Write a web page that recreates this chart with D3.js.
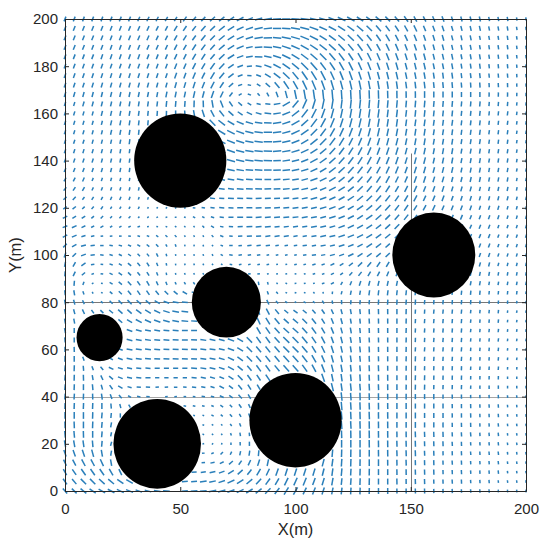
<!DOCTYPE html>
<html>
<head>
<meta charset="utf-8">
<script src="https://cdn.jsdelivr.net/npm/d3@7"></script>
<style>
body { margin: 0; background: #fff; }
text { font-family: "Liberation Sans", Arial, sans-serif; fill: #262626; }
</style>
</head>
<body>
<script>
var w = 550;
var h = 556;

var xTicks = [0, 50, 100, 150, 200];
var yTicks = [0, 20, 40, 60, 80, 100, 120, 140, 160, 180, 200];

// obstacles, data units
var circleX = [50, 160, 70, 15, 40, 100];
var circleY = [140, 100, 80, 65, 20, 30];
var circleR = [20, 18, 15, 10, 19, 20];

// thin grey lines under the field
var hLineY = [80, 40];
var hLineColor = ["#777", "#a5a5a5"];
var vLineX = 150;
var vLineTop = 143;

// grid step of the field is 4 m, rows go from y=200 down to y=0
var gridStep = 4;

// direction of each arrow in degrees, read by eye
var angles = [
[68,68,68,68,68,68,67,66,65,63,62,60,58,55,50,46,42,38,33,28,22,16,10,5,0,176,172,168,164,160,156,152,148,144,140,135,130,125,120,117,114,111,108,106,104,103,102,101,100,99,98],
[68,68,68,68,68,68,68,67,66,65,63,62,59,56,52,48,43,38,32,25,18,12,6,0,176,170,166,160,156,152,148,144,140,136,131,127,123,119,116,113,111,109,107,105,103,102,101,100,99,98,98],
[68,68,68,68,68,69,69,68,67,66,65,63,61,58,54,50,45,39,32,24,16,8,2,176,170,164,158,153,149,145,141,137,133,129,125,121,118,115,112,110,108,106,105,103,102,101,100,99,98,98,97],
[68,68,68,69,69,70,70,69,68,67,66,65,63,60,57,53,47,40,32,22,12,4,176,170,162,156,150,146,142,138,134,130,126,122,119,116,113,111,109,107,105,104,103,102,101,100,99,98,98,97,97],
[69,69,69,69,70,70,70,70,70,69,68,67,65,63,60,56,50,43,32,20,8,178,170,162,154,148,143,139,135,131,127,124,120,117,114,112,110,108,106,105,104,103,102,101,100,99,98,97,97,96,96],
[70,70,70,70,71,71,71,71,71,71,70,69,68,66,63,59,54,46,35,20,5,170,160,152,145,140,135,131,127,124,120,117,114,112,110,108,106,105,104,103,102,101,100,99,98,97,97,96,96,95,95],
[70,71,71,72,72,73,73,73,73,73,72,71,70,69,67,63,58,50,38,20,178,160,148,142,136,130,125,122,118,115,112,110,108,106,105,104,103,102,101,100,99,98,98,97,97,96,96,95,95,94,94],
[71,72,72,73,74,74,75,75,75,75,75,75,74,73,72,68,63,56,42,20,170,148,138,130,124,120,116,113,110,107,105,103,102,101,100,99,98,98,97,97,96,96,95,95,94,94,93,93,92,92,92],
[72,73,74,75,76,76,77,78,78,78,79,79,79,78,77,75,71,64,52,30,160,130,118,110,105,102,100,98,96,95,94,93,93,92,92,92,91,91,91,90,90,90,90,90,90,90,89,89,89,89,88],
[72,73,74,75,76,77,78,80,81,82,83,84,85,86,88,92,100,112,125,138,150,165,175,10,30,50,65,73,78,81,83,84,84,85,85,85,85,85,85,85,85,85,85,85,85,85,85,85,85,85,85],
[72,73,74,75,76,77,79,80,82,84,86,88,90,94,100,108,118,128,138,146,155,165,175,8,22,38,52,62,70,75,78,80,81,82,82,83,83,83,84,84,84,84,84,84,84,84,84,84,83,83,83],
[72,73,74,75,76,77,79,81,83,85,88,92,96,104,115,125,134,142,150,157,164,172,178,8,18,30,42,53,61,67,72,75,77,79,80,81,82,82,82,82,82,82,82,83,83,83,83,83,83,82,82],
[72,73,74,75,76,77,79,81,84,86,90,95,103,115,125,134,142,148,154,160,167,173,179,6,15,25,35,45,53,60,65,69,72,75,77,78,79,80,81,81,81,81,82,82,82,82,82,82,82,82,82],
[72,72,73,74,75,77,79,82,85,88,92,98,108,122,132,140,147,153,158,163,169,174,179,5,12,21,30,38,46,53,59,63,67,70,73,75,76,78,79,80,80,80,81,81,81,81,81,82,82,82,82],
[71,72,73,74,75,77,80,83,86,90,95,100,110,125,135,143,150,156,161,166,171,175,179,4,10,17,25,33,40,47,53,58,62,66,69,71,73,75,77,78,79,79,80,80,80,81,81,81,81,81,81],
[70,71,72,73,75,77,80,83,87,90,95,100,110,130,140,148,155,160,165,169,173,176,179,3,8,14,21,28,35,42,48,53,58,62,65,68,71,73,75,76,77,78,79,79,80,80,80,81,81,81,81],
[66,68,70,72,74,76,79,82,85,88,92,98,108,130,145,153,159,164,168,171,175,177,180,2,6,11,17,24,31,37,43,48,53,57,61,65,68,70,72,74,75,76,77,78,79,79,80,80,80,80,80],
[60,63,66,69,72,74,77,80,82,85,88,92,100,130,150,158,163,167,170,173,176,178,1,3,6,10,15,20,26,32,38,44,49,53,57,61,64,67,70,72,73,74,75,76,77,78,79,79,80,80,80],
[52,56,60,64,68,71,74,76,78,80,82,85,92,130,160,165,169,172,174,176,178,179,1,3,5,8,12,17,22,28,33,39,44,49,53,57,60,63,66,68,70,72,73,74,75,76,77,78,78,79,79],
[42,46,52,57,62,66,68,70,72,74,75,70,60,170,170,172,174,175,177,178,179,1,2,3,5,7,10,14,19,24,29,34,39,44,48,52,55,59,62,65,67,69,70,72,73,74,75,76,76,77,77],
[35,38,44,50,55,58,60,62,63,60,55,45,30,10,175,170,172,176,178,179,1,2,3,4,5,7,9,12,16,20,25,30,35,40,44,48,52,55,58,61,64,66,68,69,71,72,73,74,75,76,76],
[28,30,35,40,44,46,46,45,42,35,25,10,175,160,150,155,165,175,178,1,2,3,4,5,6,7,8,10,14,18,22,27,32,36,41,45,49,52,55,58,61,63,65,67,68,70,71,72,73,74,75],
[22,24,26,28,30,30,28,24,15,5,175,160,145,130,125,135,150,170,178,2,3,4,5,6,7,8,9,10,12,16,20,25,29,33,38,42,46,49,52,55,58,60,62,64,66,68,69,71,72,73,74],
[28,22,16,12,8,4,0,175,168,160,150,140,130,120,115,115,130,160,178,3,5,5,6,6,7,8,8,9,11,14,18,22,26,31,36,40,44,47,50,53,56,58,61,63,65,67,68,70,71,72,73],
[45,30,15,8,0,172,165,155,148,140,132,118,108,100,98,105,125,160,178,4,6,6,6,7,7,8,8,9,10,13,17,22,28,34,38,42,46,50,54,56,58,60,63,65,67,69,70,71,72,73,74],
[70,45,20,5,175,165,155,145,135,128,118,105,98,100,100,105,120,150,175,6,10,10,9,8,8,8,8,8,10,14,20,26,32,36,40,44,48,52,56,60,62,64,66,68,70,71,72,73,74,75,76],
[80,60,35,10,175,160,150,140,130,122,112,100,98,105,110,115,125,145,170,10,14,12,10,10,10,12,14,16,20,25,32,38,44,50,56,60,62,64,66,68,70,71,72,73,74,75,76,76,77,77,78],
[85,65,40,20,172,155,145,135,128,122,112,100,105,112,118,122,130,145,165,5,8,8,8,8,8,10,12,15,20,28,38,46,52,58,63,67,70,72,74,75,76,77,78,78,79,79,80,80,80,80,80],
[90,85,70,30,170,150,140,132,125,120,115,112,115,120,125,130,135,150,170,10,100,100,105,125,150,5,10,12,15,28,60,68,72,75,77,78,79,79,80,80,80,80,80,80,80,80,80,80,80,80,80],
[95,100,110,120,150,140,135,130,125,125,130,135,140,150,160,170,0,0,0,0,100,100,110,130,150,160,150,130,100,85,75,78,80,82,83,83,84,84,84,84,84,84,84,84,84,84,84,84,84,84,84],
[100,105,115,125,135,135,135,135,138,140,150,160,170,175,0,0,0,0,0,0,105,108,115,130,145,150,150,140,120,100,92,85,85,86,86,86,86,86,86,86,86,86,86,86,86,86,86,86,86,86,86],
[100,105,115,125,135,140,138,138,142,148,155,163,170,175,0,0,0,0,0,0,0,110,118,130,140,145,140,130,125,115,105,100,96,93,92,91,90,88,87,86,85,85,85,85,84,84,84,83,83,82,82],
[100,100,0,0,0,0,140,150,152,156,160,165,170,175,176,0,0,0,0,0,0,115,122,130,138,140,135,128,122,112,105,100,96,93,92,91,90,88,87,86,85,85,85,85,84,84,84,83,83,82,82],
[100,90,0,0,0,0,0,160,165,170,172,174,176,178,178,0,0,0,0,0,0,120,125,132,138,138,132,126,120,112,105,100,96,93,92,91,90,88,87,86,85,85,85,85,84,84,84,83,83,82,82],
[95,90,0,0,0,0,0,165,170,172,174,176,178,179,178,172,168,165,160,150,135,125,125,132,136,135,130,124,118,110,104,100,96,93,92,91,90,88,87,86,85,85,85,85,84,84,84,83,83,82,82],
[90,92,0,0,0,0,160,170,172,174,175,176,177,178,176,174,172,168,160,150,135,130,128,132,135,135,130,122,116,108,103,99,96,93,92,91,90,88,87,86,86,86,85,85,85,84,84,84,83,83,83],
[88,90,110,0,0,150,160,168,172,175,176,177,178,178,176,173,170,165,155,145,135,130,128,130,133,133,128,120,114,106,102,98,96,93,92,91,90,88,87,86,86,86,86,85,85,85,85,84,84,84,84],
[85,88,95,110,130,155,165,170,174,176,178,179,179,178,176,172,168,162,152,140,130,126,126,130,132,132,126,118,112,104,100,97,95,93,92,91,90,89,88,87,87,87,87,87,86,86,86,86,86,86,86],
[85,88,92,100,115,140,160,170,175,178,0,1,179,178,175,170,165,158,148,135,126,124,124,0,0,0,0,0,110,102,98,96,94,93,92,91,90,89,88,88,88,88,88,88,88,88,88,89,89,90,90],
[85,88,90,95,105,125,150,165,175,178,2,3,1,178,174,168,162,153,143,130,122,120,0,0,0,0,0,0,0,104,98,96,94,93,92,91,90,89,88,88,88,88,88,88,88,89,90,90,91,92,92],
[85,86,88,92,98,110,130,150,170,175,0,3,2,0,176,172,165,155,145,132,120,0,0,0,0,0,0,0,0,0,96,94,92,92,91,91,90,90,90,90,90,90,91,91,92,92,93,94,95,96,97],
[88,88,88,88,90,95,105,120,0,0,0,0,0,172,170,168,158,145,135,125,115,0,0,0,0,0,0,0,0,0,95,94,92,92,91,91,90,90,90,90,90,90,91,91,92,92,93,94,95,96,97],
[90,90,90,88,85,85,90,0,0,0,0,0,0,0,170,160,150,140,130,120,110,0,0,0,0,0,0,0,0,0,95,93,92,92,91,91,90,90,90,90,90,90,91,91,92,92,93,94,95,96,97],
[92,92,90,88,85,80,0,0,0,0,0,0,0,0,0,165,150,135,125,112,0,0,0,0,0,0,0,0,0,0,94,93,92,91,91,91,90,90,90,90,90,91,91,92,92,93,94,95,96,97,97],
[95,95,92,90,85,78,0,0,0,0,0,0,0,0,0,150,135,120,110,100,95,0,0,0,0,0,0,0,0,0,92,91,91,91,91,91,91,91,92,92,92,92,93,93,94,94,95,96,97,98,98],
[100,100,98,95,85,75,0,0,0,0,0,0,0,0,0,20,60,80,90,92,90,0,0,0,0,0,0,0,0,0,90,90,90,91,91,91,92,92,92,92,92,92,93,93,94,94,95,96,97,98,98],
[110,110,108,105,100,80,0,0,0,0,0,0,0,0,0,5,20,45,65,78,82,85,0,0,0,0,0,0,0,85,88,89,90,90,91,91,92,92,92,92,92,92,93,93,94,94,95,96,97,98,98],
[115,118,118,118,115,100,0,0,0,0,0,0,0,0,0,5,12,25,40,55,65,72,78,0,0,0,0,0,75,82,86,88,89,90,90,91,91,92,92,92,92,92,93,93,94,94,95,96,97,98,98],
[120,125,125,125,125,120,115,0,0,0,0,0,0,0,3,8,14,20,32,42,52,60,65,70,72,72,72,73,76,82,85,87,88,89,90,90,91,91,92,92,92,92,93,93,94,94,95,96,97,98,98],
[125,130,135,135,138,140,145,150,0,0,0,0,0,5,6,8,12,18,24,32,40,48,54,60,64,66,68,70,73,80,84,86,88,89,90,90,91,91,92,92,92,92,93,93,94,94,95,96,97,98,98],
[130,135,140,145,150,152,155,158,160,165,170,175,0,3,5,6,10,14,20,25,32,38,45,52,58,60,64,68,72,78,83,86,88,89,90,90,91,91,92,92,92,92,93,93,94,94,95,96,97,98,98]
];

// arrow speed per grid point, same layout as angles
var speeds = [
[5,5,5,5,5,5,5,5,5,5,5,5,5,6,6,6,7,7,8,8,8,8,9,9,9,9,9,9,9,9,9,9,8,8,8,7,7,7,6,6,6,6,5,5,5,5,4,4,4,3,3],
[5,5,5,5,5,5,5,5,5,5,5,5,6,6,6,7,7,8,8,8,8,9,9,9,9,10,10,10,9,9,9,9,9,8,8,7,7,7,7,6,6,6,5,5,5,5,4,4,4,3,3],
[5,5,5,5,5,5,5,5,5,5,5,5,6,6,6,7,7,8,8,8,8,9,9,9,10,10,10,10,9,9,9,9,9,8,8,8,7,7,7,6,6,6,5,5,5,4,4,4,4,3,3],
[5,5,5,5,5,5,5,5,5,5,5,5,6,6,7,7,7,8,8,8,7,8,9,9,10,10,10,10,10,10,10,9,9,9,8,8,8,7,7,6,6,6,5,5,5,4,4,4,4,3,3],
[5,5,5,5,5,5,5,5,5,5,5,5,6,6,7,7,7,8,8,7,7,8,8,9,10,10,10,10,10,10,10,9,9,9,8,8,8,7,7,7,6,6,6,5,5,5,4,4,4,3,3],
[5,5,5,5,5,5,5,5,5,5,5,5,6,6,7,7,8,8,7,6,5,6,8,9,10,10,11,11,10,10,10,10,9,9,8,8,8,7,7,7,6,6,6,5,5,5,4,4,4,3,3],
[5,5,5,5,5,5,5,5,5,5,5,5,6,6,7,7,8,8,7,5,4,5,7,9,10,10,11,11,11,10,10,10,9,9,8,8,8,7,7,7,6,6,6,5,5,5,4,4,4,3,3],
[5,5,5,5,5,5,5,5,5,5,5,5,6,6,7,7,8,7,6,4,3,4,6,8,10,10,11,11,11,11,10,10,10,9,9,8,8,7,7,7,6,6,6,5,5,5,4,4,4,3,3],
[5,5,5,5,5,5,5,5,5,5,5,6,6,6,7,7,8,7,5,3,3,3,4,6,8,10,11,11,11,11,10,10,10,9,9,8,8,7,7,7,6,6,6,5,5,5,4,4,4,3,3],
[4,4,5,5,5,5,5,5,5,5,5,6,6,6,7,7,8,8,6,5,4,4,5,7,9,10,11,11,11,11,10,10,10,9,9,8,8,7,7,7,6,6,6,5,5,5,4,4,4,3,3],
[4,4,4,4,5,5,5,5,5,5,5,5,6,6,7,8,8,8,7,6,6,6,7,8,9,10,11,11,11,11,10,10,10,9,9,8,8,7,7,7,6,6,6,5,5,5,4,4,4,3,3],
[4,4,4,4,4,5,5,5,5,5,5,5,6,6,7,8,9,9,8,8,8,8,8,9,9,10,10,11,11,11,10,10,10,9,9,8,8,7,7,7,6,6,6,5,5,5,4,4,4,3,3],
[4,4,4,4,4,5,5,5,5,5,5,5,6,6,7,8,9,9,9,9,9,9,9,9,9,10,10,10,10,10,10,10,9,9,9,8,8,7,7,7,6,6,6,5,5,5,4,4,4,3,3],
[4,4,4,4,4,4,4,5,5,5,5,5,5,6,7,8,9,9,9,9,9,9,9,9,9,9,9,10,10,10,10,9,9,9,8,8,8,7,7,7,6,6,6,5,5,5,4,4,4,3,3],
[4,4,4,4,4,4,4,4,4,4,4,5,5,0,8,8,9,9,9,9,9,9,9,9,9,9,9,9,9,9,9,9,9,9,8,8,8,7,7,7,6,6,6,5,5,5,4,4,4,3,3],
[4,4,4,4,4,4,4,4,4,4,0,0,0,0,0,8,8,9,9,9,9,9,9,8,8,8,8,9,9,9,9,9,9,9,8,8,8,7,7,7,6,6,6,5,5,5,4,4,4,3,3],
[4,4,4,4,4,4,4,4,3,3,3,3,0,0,0,7,8,8,8,8,8,8,8,8,8,8,8,8,8,9,9,9,9,8,8,8,8,7,7,7,6,6,6,5,5,5,4,4,4,3,3],
[4,4,4,3,3,3,3,3,3,3,3,2,2,3,5,6,7,7,7,7,7,7,7,7,7,7,7,8,8,8,8,8,8,8,8,8,7,7,7,7,6,6,5,5,5,5,4,4,4,3,3],
[4,4,4,3,3,3,3,3,3,3,2,2,2,2,4,5,6,6,6,7,7,7,7,7,7,7,7,7,7,8,8,8,8,8,8,8,7,7,7,6,6,6,5,5,5,4,4,4,4,3,3],
[4,4,3,3,3,3,3,3,2,2,2,1,1,1,3,4,5,5,6,6,6,6,6,6,6,6,6,7,7,7,7,8,8,8,8,8,7,7,7,6,6,6,5,5,5,4,4,4,4,3,3],
[4,4,3,3,3,2,2,2,2,1,1,1,1,1,2,3,4,5,5,6,6,6,6,6,6,6,6,6,7,7,7,7,8,8,8,8,7,7,6,6,6,5,5,5,5,4,4,4,3,3,3],
[5,4,4,3,3,2,2,2,1,1,1,1,1,1,2,2,3,4,5,6,6,6,6,6,6,6,6,6,6,7,7,7,7,8,8,7,7,7,6,6,6,5,5,5,4,4,4,4,3,3,3],
[5,5,4,3,3,2,2,2,2,1,1,1,1,1,1,2,3,3,4,5,6,6,6,5,5,5,5,6,6,6,7,7,7,7,7,7,7,6,6,6,5,5,5,5,4,4,4,3,3,3,3],
[5,5,4,3,2,2,2,2,2,2,2,2,2,1,1,1,2,3,3,4,5,5,5,5,5,4,4,5,6,6,7,7,7,7,7,7,6,6,6,6,5,5,5,5,4,4,4,3,3,3,3],
[5,5,5,4,3,3,3,3,3,3,3,2,2,1,1,1,1,2,3,3,4,4,4,3,3,3,4,4,5,5,6,6,6,7,7,6,6,6,6,6,5,5,5,5,4,4,4,3,3,3,3],
[5,5,5,4,3,3,3,3,3,3,3,2,1,1,1,1,1,2,3,3,3,3,2,2,2,2,3,4,4,5,5,6,6,6,6,6,6,6,6,5,5,5,5,5,4,4,4,3,3,3,3],
[5,5,5,3,2,3,3,4,4,4,3,2,1,1,1,1,1,1,2,2,2,2,2,1,1,2,2,3,3,4,4,5,6,6,6,6,6,6,5,5,5,5,5,5,4,4,4,3,3,3,3],
[5,5,4,2,2,3,4,4,4,4,3,2,1,1,1,1,1,1,1,1,2,2,1,1,1,1,1,2,2,3,3,4,5,5,5,5,5,5,5,5,5,5,5,5,4,4,4,3,3,3,3],
[5,5,3,1,1,3,4,5,5,5,4,3,2,2,2,2,2,2,1,1,3,3,2,1,1,1,1,1,2,3,3,4,5,5,5,5,5,5,5,5,5,5,5,4,4,4,3,3,3,3,3],
[5,5,3,1,1,3,4,5,5,5,5,5,5,5,5,5,0,0,0,0,4,4,3,2,1,1,1,1,1,2,3,4,4,5,5,5,5,5,5,5,5,5,4,4,4,4,3,3,3,3,2],
[5,5,4,2,2,4,5,6,6,6,6,6,6,6,0,0,0,0,0,0,6,6,5,3,2,1,2,2,3,3,4,4,4,4,5,5,5,5,5,4,4,4,4,4,4,3,3,3,3,2,2],
[5,5,5,4,4,5,6,6,7,7,7,7,7,7,0,0,0,0,0,0,0,7,7,6,5,5,5,5,5,5,5,5,5,5,5,5,5,5,4,4,4,4,4,4,3,3,3,3,2,2,2],
[5,5,0,0,0,0,5,6,7,7,7,7,7,7,6,0,0,0,0,0,0,8,8,8,7,7,7,7,6,6,6,5,5,5,5,5,5,5,4,4,4,4,4,4,3,3,3,3,2,2,2],
[5,5,0,0,0,0,0,6,6,6,6,6,6,6,6,0,0,0,0,0,0,8,8,8,8,8,8,8,7,7,6,6,5,5,5,5,5,5,4,4,4,4,4,4,3,3,3,3,2,2,2],
[5,5,0,0,0,0,0,6,6,6,6,6,6,6,6,6,6,6,7,7,8,8,8,8,9,9,9,8,8,7,7,6,6,5,5,5,5,5,4,4,4,4,4,4,3,3,3,3,2,2,2],
[5,5,0,0,0,0,5,6,6,6,6,6,6,6,6,6,6,6,7,7,8,8,8,8,9,9,9,8,8,8,7,6,6,6,5,5,5,5,4,4,4,4,4,4,3,3,3,3,2,2,2],
[6,6,4,0,0,4,5,6,6,6,6,6,6,6,6,6,6,6,7,7,8,8,8,8,9,9,9,9,8,8,7,7,6,6,5,5,5,5,5,4,4,4,4,4,3,3,3,3,2,2,2],
[6,6,5,4,4,5,5,5,5,5,5,5,5,5,6,6,6,6,7,7,7,8,8,8,9,9,9,9,9,8,8,7,6,6,6,5,5,5,5,4,4,4,4,4,3,3,3,3,2,2,2],
[6,6,6,5,5,5,5,5,5,5,4,4,4,4,5,5,5,5,6,7,7,7,8,0,0,0,0,0,9,8,8,7,7,6,6,6,5,5,5,5,4,4,4,4,3,3,3,3,2,2,2],
[6,6,6,6,5,5,5,4,4,4,3,3,3,3,4,4,4,5,5,6,6,6,0,0,0,0,0,0,0,9,8,8,7,7,6,6,6,5,5,5,4,4,4,4,3,3,3,3,2,2,2],
[6,6,6,6,6,5,4,3,3,3,0,2,2,2,2,3,3,4,4,5,5,0,0,0,0,0,0,0,0,0,9,8,8,7,7,6,6,6,5,5,5,4,4,4,3,3,3,3,2,2,2],
[6,6,6,6,6,5,4,3,0,0,0,0,0,2,2,2,2,3,3,4,4,0,0,0,0,0,0,0,0,0,9,8,8,7,7,6,6,6,5,5,5,5,4,4,4,3,3,3,2,2,2],
[7,7,7,7,6,5,4,0,0,0,0,0,0,0,1,1,2,2,3,3,4,0,0,0,0,0,0,0,0,0,9,8,8,8,7,7,6,6,6,5,5,5,4,4,4,3,3,3,2,2,2],
[7,7,7,7,6,5,0,0,0,0,0,0,0,0,0,1,1,1,2,3,0,0,0,0,0,0,0,0,0,0,9,8,8,8,7,7,6,6,6,5,5,5,4,4,4,3,3,3,2,2,2],
[7,7,7,7,6,4,0,0,0,0,0,0,0,0,0,1,1,1,2,3,3,0,0,0,0,0,0,0,0,0,8,8,8,8,7,7,6,6,6,5,5,5,4,4,4,3,3,3,2,2,2],
[7,7,7,7,6,4,0,0,0,0,0,0,0,0,0,1,1,1,2,3,4,0,0,0,0,0,0,0,0,0,8,8,8,8,7,7,6,6,6,5,5,5,4,4,3,3,3,3,2,2,2],
[7,7,8,8,7,5,0,0,0,0,0,0,0,0,0,2,2,3,3,4,5,6,0,0,0,0,0,0,0,8,8,8,8,7,7,7,6,6,6,5,5,4,4,4,3,3,3,3,2,2,2],
[7,7,8,8,8,7,0,0,0,0,0,0,0,0,0,3,4,4,5,5,6,7,7,0,0,0,0,0,8,8,8,8,7,7,7,6,6,6,5,5,5,4,4,4,3,3,3,3,2,2,2],
[7,7,8,8,8,8,7,0,0,0,0,0,0,0,5,5,6,6,7,7,7,8,8,8,8,8,8,8,8,8,8,7,7,7,6,6,6,6,5,5,5,4,4,4,3,3,3,3,2,2,2],
[7,7,8,8,8,8,8,8,0,0,0,0,0,6,6,7,7,7,8,8,8,8,8,8,9,9,9,8,8,8,7,7,7,7,6,6,6,5,5,5,4,4,4,4,3,3,3,2,2,2,2],
[7,7,8,8,8,8,8,8,7,7,7,7,0,6,7,7,8,8,8,8,8,8,8,8,9,9,8,8,8,7,7,7,7,6,6,6,5,5,5,5,4,4,4,3,3,3,3,2,2,2,2]
];

var margin = { top: 19, right: 24, bottom: 65, left: 65 };
var plotW = w - margin.left - margin.right;
var plotH = h - margin.top - margin.bottom;

var xScale = d3.scaleLinear()
				.domain([0, 200])
				.range([margin.left, margin.left + plotW]);

var yScale = d3.scaleLinear()
				.domain([0, 200])
				.range([margin.top + plotH, margin.top]);

// speed value to drawn length in px
var lenScale = d3.scaleLinear()
				.domain([0, 11])
				.range([1, 10]);

var svg = d3.select("body")
			.append("svg")
			.attr("width", w)
			.attr("height", h);

// flatten rows to one list of arrows
var arrows = [];
angles.forEach(function(row, r) {
	row.forEach(function(a, c) {
		arrows.push({ x: c * gridStep, y: 200 - r * gridStep, a: a, s: speeds[r][c] });
	});
});

// grey guide lines
svg.selectAll(".hguide")
	.data(hLineY)
	.enter()
	.append("line")
	.attr("x1", xScale(0))
	.attr("x2", xScale(200))
	.attr("y1", function(d) { return Math.round(yScale(d)) + 0.5; })
	.attr("y2", function(d) { return Math.round(yScale(d)) + 0.5; })
	.attr("stroke", function(d, i) { return hLineColor[i]; })
	.attr("stroke-width", 1);

svg.append("line")
	.attr("x1", Math.round(xScale(vLineX)) + 0.5)
	.attr("x2", Math.round(xScale(vLineX)) + 0.5)
	.attr("y1", yScale(0))
	.attr("y2", yScale(vLineTop))
	.attr("stroke", "#777")
	.attr("stroke-width", 1);

// the field
svg.selectAll(".arrow")
	.data(arrows.filter(function(d) { return d.s > 0; }))
	.enter()
	.append("line")
	.attr("class", "arrow")
	.attr("x1", function(d) { return xScale(d.x) - Math.cos(d.a * Math.PI / 180) * lenScale(d.s) / 2; })
	.attr("y1", function(d) { return yScale(d.y) + Math.sin(d.a * Math.PI / 180) * lenScale(d.s) / 2; })
	.attr("x2", function(d) { return xScale(d.x) + Math.cos(d.a * Math.PI / 180) * lenScale(d.s) / 2; })
	.attr("y2", function(d) { return yScale(d.y) - Math.sin(d.a * Math.PI / 180) * lenScale(d.s) / 2; })
	.attr("stroke", "#2a7fba")
	.attr("stroke-width", 1.5);

// obstacles
svg.selectAll("ellipse")
	.data(circleX)
	.enter()
	.append("ellipse")
	.attr("cx", function(d) { return xScale(d); })
	.attr("cy", function(d, i) { return yScale(circleY[i]); })
	.attr("rx", function(d, i) { return xScale(circleR[i]) - xScale(0); })
	.attr("ry", function(d, i) { return yScale(0) - yScale(circleR[i]); })
	.attr("fill", "#000");

// box and ticks
function styleAxis(g) {
	g.selectAll("path").attr("stroke", "#262626").attr("stroke-width", 1);
	g.selectAll("line").attr("stroke", "#262626").attr("stroke-width", 1);
	g.selectAll("text").style("font-size", "15px").attr("fill", "#262626");
}

svg.append("g")
	.attr("transform", "translate(0," + yScale(0) + ")")
	.call(d3.axisBottom(xScale).tickValues(xTicks).tickSize(-4).tickSizeOuter(0).tickPadding(12))
	.call(styleAxis);

svg.append("g")
	.attr("transform", "translate(0," + yScale(200) + ")")
	.call(d3.axisTop(xScale).tickValues(xTicks).tickSize(-4).tickSizeOuter(0).tickFormat(""))
	.call(styleAxis);

svg.append("g")
	.attr("transform", "translate(" + xScale(0) + ",0)")
	.call(d3.axisLeft(yScale).tickValues(yTicks).tickSize(-4).tickSizeOuter(0).tickPadding(7))
	.call(styleAxis);

svg.append("g")
	.attr("transform", "translate(" + xScale(200) + ",0)")
	.call(d3.axisRight(yScale).tickValues(yTicks).tickSize(-4).tickSizeOuter(0).tickFormat(""))
	.call(styleAxis);

svg.append("text")
	.attr("x", (xScale(0) + xScale(200)) / 2)
	.attr("y", 535)
	.attr("text-anchor", "middle")
	.style("font-size", "16.5px")
	.text("X(m)");

svg.append("text")
	.attr("transform", "translate(21," + (yScale(100)) + ") rotate(-90)")
	.attr("text-anchor", "middle")
	.style("font-size", "16.5px")
	.text("Y(m)");
</script>
</body>
</html>
